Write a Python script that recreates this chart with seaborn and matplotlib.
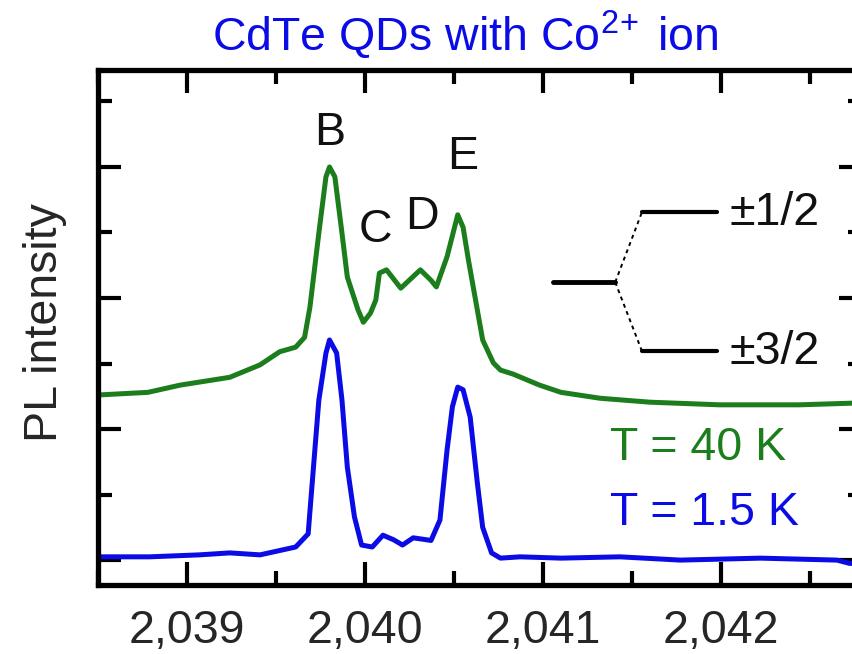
import matplotlib
matplotlib.use("Agg")
import matplotlib.pyplot as plt
from matplotlib.ticker import FixedLocator, FuncFormatter
import pandas as pd
import seaborn as sns

# Photon energy (eV) and PL intensity (arb. units) for the two temperatures
energy_40k = [2.0385, 2.03878, 2.03896, 2.03924, 2.03941, 2.03952, 2.03961, 2.03966,
              2.03969, 2.03974, 2.03978, 2.03980, 2.03983, 2.03987, 2.03990, 2.03996,
              2.03999, 2.04003, 2.04006, 2.04008, 2.04012, 2.04020, 2.04031, 2.04037,
              2.04040, 2.04046, 2.04052, 2.04055, 2.04058, 2.04062, 2.04066, 2.04072,
              2.04076, 2.04083, 2.04098, 2.04110, 2.04132, 2.04160, 2.04199, 2.04244,
              2.04279]
pl_40k = [2.52, 2.56, 2.67, 2.79, 2.98, 3.18, 3.25, 3.40,
          3.86, 4.99, 5.85, 6.00, 5.85, 4.99, 4.32, 3.82,
          3.63, 3.77, 3.97, 4.38, 4.43, 4.15, 4.43, 4.27,
          4.17, 4.63, 5.27, 5.08, 4.58, 3.97, 3.36, 3.01,
          2.90, 2.84, 2.67, 2.56, 2.47, 2.41, 2.37, 2.37,
          2.40]

energy_1p5k = [2.0385, 2.03879, 2.03907, 2.03924, 2.03941, 2.03961, 2.03968, 2.03971,
               2.03974, 2.03978, 2.03980, 2.03984, 2.03987, 2.03990, 2.03994, 2.03998,
               2.04004, 2.04010, 2.04016, 2.04021, 2.04027, 2.04037, 2.04042, 2.04046,
               2.04049, 2.04052, 2.04055, 2.04059, 2.04063, 2.04066, 2.04071, 2.04076,
               2.04087, 2.04110, 2.04143, 2.04177, 2.04222, 2.04265, 2.04272, 2.04279]
pl_1p5k = [0.05, 0.05, 0.08, 0.11, 0.08, 0.20, 0.40, 1.42,
           2.44, 3.16, 3.36, 3.16, 2.44, 1.42, 0.66, 0.23,
           0.20, 0.38, 0.31, 0.23, 0.34, 0.30, 0.61, 1.68,
           2.34, 2.64, 2.60, 2.18, 1.18, 0.50, 0.11, 0.03,
           0.05, 0.03, 0.05, 0.00, 0.03, 0.00, -0.05, -0.05]

x_tick_values = [2.039, 2.040, 2.041, 2.042]
x_minor_values = [2.0385, 2.0395, 2.0405, 2.0415, 2.0425]
y_major_values = [0, 2, 4, 6]
y_minor_values = [1, 3, 5, 7]

peak_names = ["B", "C", "D", "E"]
peak_label_x = [2.03980, 2.04006, 2.04032, 2.04055]
peak_label_y = [6.52, 5.04, 5.24, 6.15]

green = "#1b7d1b"
blue = "#0b0be6"

sns.set_style("white")
plt.rcParams["font.family"] = ["Liberation Sans", "DejaVu Sans"]
plt.rcParams["mathtext.fontset"] = "custom"
plt.rcParams["mathtext.rm"] = "Liberation Sans"
plt.rcParams["mathtext.it"] = "Liberation Sans"

fs = 33.5

df = pd.concat([
    pd.DataFrame({"energy": energy_40k, "pl": pl_40k, "T": "40 K"}),
    pd.DataFrame({"energy": energy_1p5k, "pl": pl_1p5k, "T": "1.5 K"}),
])

fig = plt.figure(figsize=(8.52, 6.54), dpi=100)
ax = fig.add_axes([98 / 852, 69 / 654, 764 / 852, 515 / 654])

sns.lineplot(data=df, x="energy", y="pl", hue="T", palette={"40 K": green, "1.5 K": blue},
             estimator=None, sort=False, linewidth=3.6, legend=False, ax=ax)
for ln in ax.lines:
    ln.set_solid_joinstyle("round")
    ln.set_solid_capstyle("round")

ax.set_xlim(2.0385, 2.04279)
ax.set_ylim(-0.38, 7.48)

ax.xaxis.set_major_locator(FixedLocator(x_tick_values))
ax.xaxis.set_minor_locator(FixedLocator(x_minor_values))
ax.yaxis.set_major_locator(FixedLocator(y_major_values))
ax.yaxis.set_minor_locator(FixedLocator(y_minor_values))
ax.xaxis.set_major_formatter(FuncFormatter(lambda v, p: f"{v:.3f}".replace(".", ",")))

ax.tick_params(which="both", direction="in", top=True, right=True, bottom=True, left=True,
               color="black", width=3.0)
ax.tick_params(which="major", length=16.5, labelsize=fs, pad=17)
ax.tick_params(which="minor", length=10)
ax.tick_params(axis="y", which="both", labelleft=False)

for sp in ax.spines.values():
    sp.set_linewidth(3.8)
    sp.set_color("black")

ax.set_xlabel("")
ax.set_ylabel("PL intensity", fontsize=fs)
ax.yaxis.set_label_coords(-0.041, 0.51)

# peak labels
for name, px, py in zip(peak_names, peak_label_x, peak_label_y):
    ax.text(px, py, name, fontsize=fs, ha="center", va="center", color="#111111")

# level splitting diagram
tr = ax.transAxes
ax.plot([0.596, 0.677], [0.588, 0.588], color="black", lw=3.5, transform=tr, solid_capstyle="round")
ax.plot([0.712, 0.810], [0.724, 0.724], color="black", lw=3.0, transform=tr)
ax.plot([0.712, 0.810], [0.454, 0.454], color="black", lw=3.0, transform=tr)
ax.plot([0.677, 0.712], [0.588, 0.724], color="black", lw=1.4, ls=(0, (2, 2)), transform=tr)
ax.plot([0.677, 0.712], [0.588, 0.454], color="black", lw=1.4, ls=(0, (2, 2)), transform=tr)
ax.text(0.827, 0.722, "±1/2", fontsize=fs, ha="left", va="center", transform=tr, color="#111111")
ax.text(0.827, 0.452, "±3/2", fontsize=fs, ha="left", va="center", transform=tr, color="#111111")

ax.text(0.670, 0.266, "T = 40 K", fontsize=fs, color=green, ha="left", va="center", transform=tr)
ax.text(0.670, 0.140, "T = 1.5 K", fontsize=fs, color=blue, ha="left", va="center", transform=tr)

fig.text(465 / 852, 1 - 35 / 654, r"CdTe QDs with Co$^{2\!+}$ ion", fontsize=fs, color=blue,
         ha="center", va="center")

fig.savefig("out.png", dpi=100, facecolor="white")
